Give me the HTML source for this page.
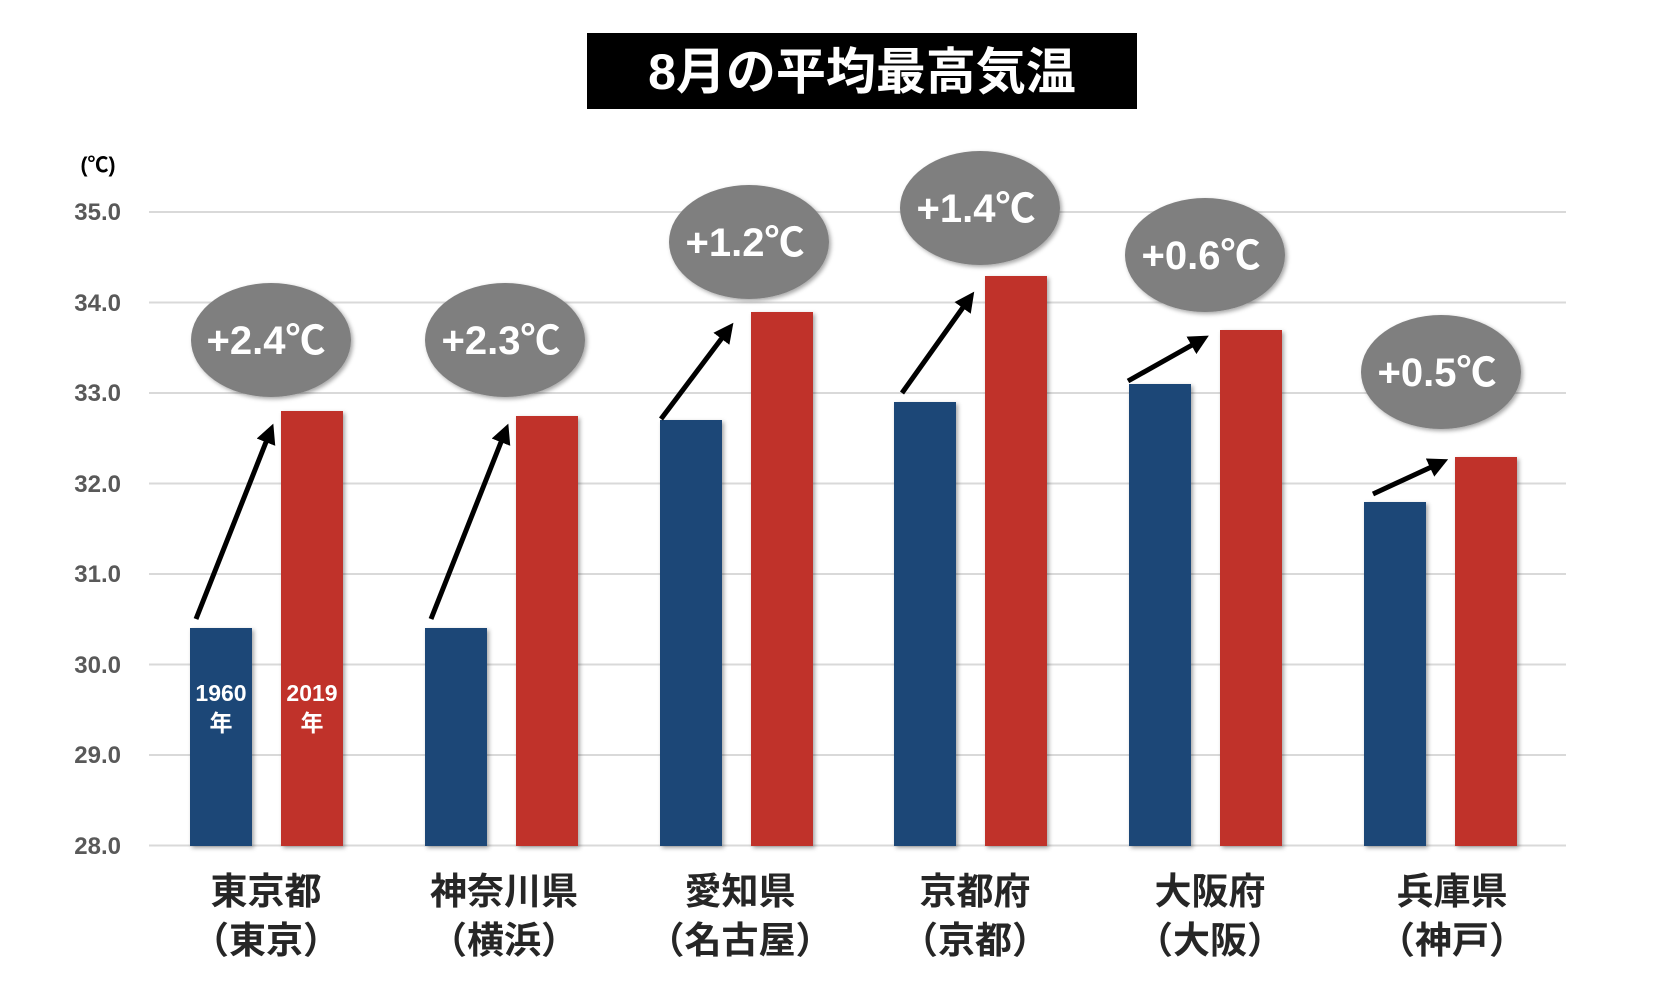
<!DOCTYPE html>
<html><head><meta charset="utf-8"><style>
html,body{margin:0;padding:0;background:#fff;}
svg{display:block;}
text{font-family:"Liberation Sans","Noto Sans CJK JP",sans-serif;}
</style></head><body>
<svg width="1664" height="986" viewBox="0 0 1664 986" xmlns="http://www.w3.org/2000/svg">
<defs>
<marker id="ah" markerWidth="4" markerHeight="4" refX="2.2" refY="2" orient="auto" markerUnits="strokeWidth">
<path d="M0,0 L4,2 L0,4 Z" fill="#000"/>
</marker>
<filter id="sh" x="-10%" y="-10%" width="130%" height="130%"><feDropShadow dx="2" dy="2" stdDeviation="2" flood-color="#000" flood-opacity="0.35"/></filter>
</defs>
<rect x="587" y="33" width="550" height="76" fill="#000"/>
<text x="862" y="89" font-size="50" font-weight="bold" fill="#fff" text-anchor="middle">8月の平均最高気温</text>
<text x="98" y="172" font-size="21" font-weight="bold" fill="#000" text-anchor="middle">(℃)</text>
<g stroke="#d9d9d9" stroke-width="2">
<line x1="149" y1="212" x2="1566" y2="212"/>
<line x1="149" y1="302.5" x2="1566" y2="302.5"/>
<line x1="149" y1="393" x2="1566" y2="393"/>
<line x1="149" y1="483.5" x2="1566" y2="483.5"/>
<line x1="149" y1="574" x2="1566" y2="574"/>
<line x1="149" y1="664.5" x2="1566" y2="664.5"/>
<line x1="149" y1="755" x2="1566" y2="755"/>
<line x1="149" y1="845.5" x2="1566" y2="845.5"/>
</g>
<g font-size="24" font-weight="bold" fill="#595959" text-anchor="end">
<text x="121" y="220">35.0</text>
<text x="121" y="311">34.0</text>
<text x="121" y="401">33.0</text>
<text x="121" y="492">32.0</text>
<text x="121" y="582">31.0</text>
<text x="121" y="673">30.0</text>
<text x="121" y="763">29.0</text>
<text x="121" y="854">28.0</text>
</g>
<g filter="url(#sh)">
<rect x="190" y="628" width="62" height="218" fill="#1b4677"/>
<rect x="281" y="411" width="62" height="435" fill="#c0312b"/>
<rect x="425" y="628" width="62" height="218" fill="#1b4677"/>
<rect x="516" y="416" width="62" height="430" fill="#c0312b"/>
<rect x="660" y="420" width="62" height="426" fill="#1b4677"/>
<rect x="751" y="312" width="62" height="534" fill="#c0312b"/>
<rect x="894" y="402" width="62" height="444" fill="#1b4677"/>
<rect x="985" y="276" width="62" height="570" fill="#c0312b"/>
<rect x="1129" y="384" width="62" height="462" fill="#1b4677"/>
<rect x="1220" y="330" width="62" height="516" fill="#c0312b"/>
<rect x="1364" y="502" width="62" height="344" fill="#1b4677"/>
<rect x="1455" y="457" width="62" height="389" fill="#c0312b"/>
</g>
<g font-size="23" font-weight="bold" fill="#fff" text-anchor="middle">
<text x="221" y="701">1960</text>
<text x="221" y="731">年</text>
<text x="312" y="701">2019</text>
<text x="312" y="731">年</text>
</g>
<g stroke="#000" stroke-width="5" marker-end="url(#ah)">
<line x1="196" y1="619" x2="270" y2="432"/>
<line x1="431" y1="619" x2="505" y2="432"/>
<line x1="661" y1="419" x2="728" y2="330"/>
<line x1="902" y1="393" x2="969" y2="299"/>
<line x1="1128" y1="381" x2="1201" y2="340"/>
<line x1="1373" y1="494" x2="1440" y2="463"/>
</g>
<g fill="#7f7f7f" filter="url(#sh)">
<ellipse cx="271" cy="340" rx="80" ry="57"/>
<ellipse cx="505" cy="340" rx="80" ry="57"/>
<ellipse cx="749" cy="242" rx="80" ry="57"/>
<ellipse cx="980" cy="208" rx="80" ry="57"/>
<ellipse cx="1205" cy="255" rx="80" ry="57"/>
<ellipse cx="1441" cy="372" rx="80" ry="57"/>
</g>
<g font-size="40" font-weight="bold" fill="#fff" text-anchor="middle">
<text x="266" y="354">+2.4℃</text>
<text x="501" y="354">+2.3℃</text>
<text x="745" y="256">+1.2℃</text>
<text x="976" y="222">+1.4℃</text>
<text x="1201" y="269">+0.6℃</text>
<text x="1437" y="386">+0.5℃</text>
</g>
<g font-size="37" font-weight="bold" fill="#262626" text-anchor="middle">
<text x="266" y="904">東京都</text><text x="266" y="953">（東京）</text>
<text x="504" y="904">神奈川県</text><text x="504" y="953">（横浜）</text>
<text x="740" y="904">愛知県</text><text x="740" y="953">（名古屋）</text>
<text x="975" y="904">京都府</text><text x="975" y="953">（京都）</text>
<text x="1210" y="904">大阪府</text><text x="1210" y="953">（大阪）</text>
<text x="1452" y="904">兵庫県</text><text x="1452" y="953">（神戸）</text>
</g>
</svg>
</body></html>
